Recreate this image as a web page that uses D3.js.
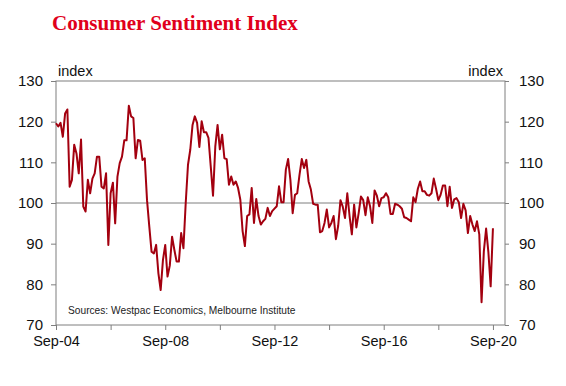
<!DOCTYPE html>
<html>
<head>
<meta charset="utf-8">
<script src="https://cdn.jsdelivr.net/npm/d3@7"></script>
<style>
  body { margin: 0; background: #fff; }
  svg { display: block; font-family: "Liberation Sans", Arial, sans-serif; }
</style>
</head>
<body>
<svg></svg>
<script>
var width = 566;
var height = 386;

// monthly index, Sep-04 .. Sep-20
var startMonth = new Date(2004, 8, 1);
var sentiment = [
  119.6, 118.8, 119.7, 116.3, 122, 123, 104, 105.7, 114.3, 112.2, 107.3, 115.6,
  99.1, 97.9, 105.7, 102.4, 106, 107.3, 111.4, 111.4, 104, 103.6, 107.3, 89.7,
  102.4, 105, 95, 106.5, 109.8, 111.4, 115.4, 115.4, 123.9, 121.3, 120.9, 111,
  115.5, 115.3, 110.6, 111, 100.7, 94.2, 88, 87.6, 89.7, 82.7, 78.6, 86,
  89.7, 81.9, 84.6, 91.7, 88.5, 85.6, 85.6, 92.6, 88.9, 100, 109.4, 113.1,
  119.2, 121.3, 119.7, 113.8, 120.1, 117.4, 117.4, 116, 109, 101.8, 113.9, 119.2,
  113.2, 116.8, 111, 110.8, 104.5, 106.5, 104.5, 105.3, 103.7, 100.8, 93.1, 89.4,
  96.8, 97.2, 103.7, 95.1, 101, 96.8, 94.7, 95.5, 96.1, 98.8, 96.8, 98,
  98.6, 99.2, 104.1, 100.2, 100.2, 108.2, 110.8, 105.7, 97.5, 102, 102.4, 106.9,
  110.8, 108.6, 110.6, 105.3, 103.3, 99.8, 99.6, 99.6, 92.8, 93.1, 95.1, 98.4,
  94, 95.1, 96.8, 91.1, 94.4, 100.7, 99.1, 96.3, 102.4, 96.8, 92.3, 99.6,
  94, 97.5, 101.6, 100.7, 97, 101.4, 99.2, 95.1, 103.1, 101.8, 99.2, 101.2,
  101.4, 102.4, 101.4, 97.3, 97.3, 99.8, 99.6, 99.2, 98.6, 96.5, 96.3, 95.9,
  95.5, 101.4, 100.2, 103.5, 105.3, 102.9, 102.9, 102, 101.8, 102.4, 106, 103.5,
  100.7, 102, 104.3, 104.3, 99.2, 104, 98.8, 100.9, 101.2, 100.2, 96.3, 99.8,
  98.2, 92.6, 96.8, 94.7, 93.1, 95.5, 92.3, 75.6, 88.1, 93.7, 87.9, 79.5,
  93.8
];
var yTicks = [70, 80, 90, 100, 110, 120, 130];
var xTickYears = [2004, 2006, 2008, 2010, 2012, 2014, 2016, 2018, 2020];
var xLabelYears = [2004, 2008, 2012, 2016, 2020];

var data = sentiment.map((v, i) => ({date: d3.timeMonth.offset(startMonth, i), value: v}));

var plotL = 56, plotR = 505, plotT = 81, plotB = 325;

var x = d3.scaleLinear()
  .domain([0, 197.3])
  .range([plotL, plotR]);
var monthIdx = d => d3.timeMonth.count(startMonth, d);

var y = d3.scaleLinear()
  .domain([70, 130])
  .range([plotB, plotT]);

var svg = d3.select('svg')
  .attr('width', width)
  .attr('height', height);

svg.append('text')
  .attr('x', 52)
  .attr('y', 30)
  .attr('font-family', '"Liberation Serif", "Times New Roman", serif')
  .attr('font-weight', 'bold')
  .attr('font-size', 21)
  .attr('fill', '#e0001b')
  .text('Consumer Sentiment Index');

var frameColor = '#7f7f7f';

// gridline at 100
svg.append('line')
  .attr('x1', plotL).attr('x2', plotR)
  .attr('y1', y(100)).attr('y2', y(100))
  .attr('stroke', frameColor).attr('stroke-width', 1);

var yLeft = d3.axisLeft(y).tickValues(yTicks).tickSize(5).tickPadding(8);
var gl = svg.append('g').attr('transform', 'translate(' + plotL + ',0)').call(yLeft);
gl.select('.domain').remove();

var yRight = d3.axisRight(y).tickValues(yTicks).tickSize(4).tickPadding(10);
var gr = svg.append('g').attr('transform', 'translate(' + plotR + ',0)').call(yRight);
gr.select('.domain').remove();

var xDates = xTickYears.map(yr => new Date(yr, 8, 1));
var xAxis = d3.axisBottom(x)
  .tickValues(xDates.map(monthIdx))
  .tickSize(5)
  .tickPadding(6)
  .tickFormat((d, i) => xLabelYears.indexOf(xTickYears[i]) >= 0 ? d3.timeFormat('%b-%y')(xDates[i]) : '');
var gx = svg.append('g').attr('transform', 'translate(0,' + plotB + ')').call(xAxis);
gx.select('.domain').remove();

[gl, gr, gx].forEach(g => {
  g.selectAll('line').attr('stroke', frameColor);
  g.selectAll('text').attr('font-size', 15).attr('fill', '#111')
    .attr('font-family', '"Liberation Sans", Arial, sans-serif');
});
gx.selectAll('text').attr('font-size', 14.5);

// frame
svg.append('rect')
  .attr('x', plotL).attr('y', plotT)
  .attr('width', plotR - plotL).attr('height', plotB - plotT)
  .attr('fill', 'none').attr('stroke', frameColor).attr('stroke-width', 1);

svg.append('text')
  .attr('x', 58).attr('y', 76)
  .attr('font-size', 14.5).attr('fill', '#111')
  .text('index');

svg.append('text')
  .attr('x', 503).attr('y', 76)
  .attr('text-anchor', 'end')
  .attr('font-size', 14.5).attr('fill', '#111')
  .text('index');

svg.append('text')
  .attr('x', 68).attr('y', 314)
  .attr('font-size', 10.2).attr('fill', '#222')
  .text('Sources: Westpac Economics, Melbourne Institute');

var line = d3.line()
  .x(d => x(monthIdx(d.date)))
  .y(d => y(d.value));

svg.append('path')
  .datum(data)
  .attr('d', line)
  .attr('fill', 'none')
  .attr('stroke', '#a3000f')
  .attr('stroke-width', 2)
  .attr('stroke-linejoin', 'round');
</script>
</body>
</html>
